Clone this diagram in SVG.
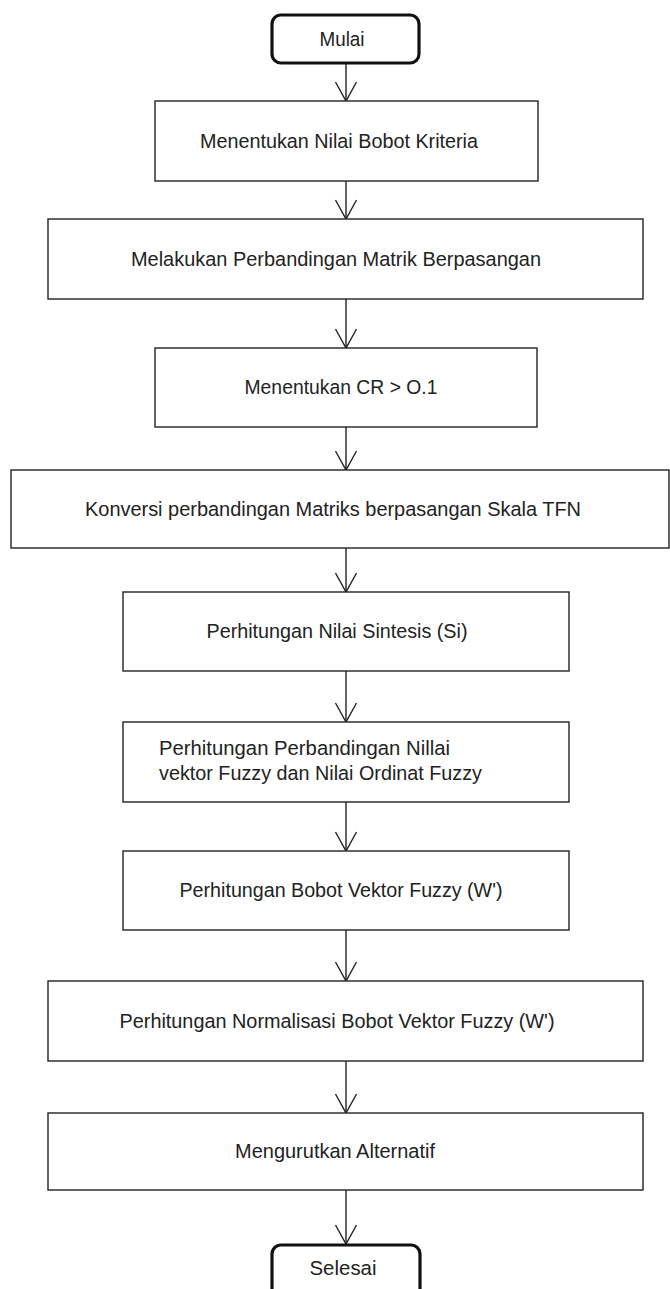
<svg xmlns="http://www.w3.org/2000/svg" width="670" height="1289" viewBox="0 0 670 1289">
<style>
.box{fill:#fff;stroke:#222;stroke-width:1.4}
.term{fill:#fff;stroke:#111;stroke-width:3.2}
.t{font-family:"Liberation Sans",Arial,sans-serif;font-size:20.5px;fill:#222;text-anchor:middle}
.tl{font-family:"Liberation Sans",Arial,sans-serif;font-size:20.5px;fill:#222}
.c{fill:none;stroke:#222;stroke-width:1.4;marker-end:url(#v)}
</style>
<defs>
<marker id="v" markerUnits="userSpaceOnUse" orient="auto" overflow="visible" markerWidth="1" markerHeight="1" refX="0" refY="0">
<path d="M-19,-10.5 L0,0 L-19,10.5" fill="none" stroke="#222" stroke-width="1.4"/>
</marker>
</defs>
<rect width="670" height="1289" fill="#fff"/>
<g id="connectors">
<line class="c" x1="346" y1="63" x2="346" y2="101"/>
<line class="c" x1="346" y1="181" x2="346" y2="219"/>
<line class="c" x1="346" y1="299" x2="346" y2="348"/>
<line class="c" x1="346" y1="427" x2="346" y2="470"/>
<line class="c" x1="346" y1="548" x2="346" y2="592"/>
<line class="c" x1="346" y1="671" x2="346" y2="722"/>
<line class="c" x1="346" y1="802" x2="346" y2="851"/>
<line class="c" x1="346" y1="930" x2="346" y2="981"/>
<line class="c" x1="346" y1="1061" x2="346" y2="1113"/>
<line class="c" x1="346" y1="1190" x2="346" y2="1244"/>
</g>
<g id="mulai">
<rect class="term" x="272" y="15" width="147" height="48" rx="9"/>
<text class="t" x="342" y="46" textLength="45" lengthAdjust="spacingAndGlyphs">Mulai</text>
</g>
<g id="n1">
<rect class="box" x="155" y="101" width="383" height="80"/>
<text class="t" x="339" y="148" textLength="278" lengthAdjust="spacingAndGlyphs">Menentukan Nilai Bobot Kriteria</text>
</g>
<g id="n2">
<rect class="box" x="48" y="219" width="595" height="80"/>
<text class="t" x="336" y="266" textLength="410" lengthAdjust="spacingAndGlyphs">Melakukan Perbandingan Matrik Berpasangan</text>
</g>
<g id="n3">
<rect class="box" x="155" y="348" width="382" height="79"/>
<text class="t" x="341" y="394" textLength="193" lengthAdjust="spacingAndGlyphs">Menentukan CR &gt; O.1</text>
</g>
<g id="n4">
<rect class="box" x="11" y="470" width="658" height="78"/>
<text class="t" x="333" y="516" textLength="496" lengthAdjust="spacingAndGlyphs">Konversi perbandingan Matriks berpasangan Skala TFN</text>
</g>
<g id="n5">
<rect class="box" x="123" y="592" width="446" height="79"/>
<text class="t" x="337" y="638" textLength="261" lengthAdjust="spacingAndGlyphs">Perhitungan Nilai Sintesis (Si)</text>
</g>
<g id="n6">
<rect class="box" x="123" y="722" width="446" height="80"/>
<text class="tl" x="159" y="755" textLength="291" lengthAdjust="spacingAndGlyphs">Perhitungan Perbandingan Nillai</text>
<text class="tl" x="159" y="780" textLength="323" lengthAdjust="spacingAndGlyphs">vektor Fuzzy dan Nilai Ordinat Fuzzy</text>
</g>
<g id="n7">
<rect class="box" x="123" y="851" width="446" height="79"/>
<text class="t" x="341" y="897" textLength="323" lengthAdjust="spacingAndGlyphs">Perhitungan Bobot Vektor Fuzzy (W')</text>
</g>
<g id="n8">
<rect class="box" x="48" y="981" width="595" height="80"/>
<text class="t" x="337" y="1028" textLength="435" lengthAdjust="spacingAndGlyphs">Perhitungan Normalisasi Bobot Vektor Fuzzy (W')</text>
</g>
<g id="n9">
<rect class="box" x="48" y="1113" width="595" height="77"/>
<text class="t" x="335" y="1158" textLength="200" lengthAdjust="spacingAndGlyphs">Mengurutkan Alternatif</text>
</g>
<g id="selesai">
<rect class="term" x="272" y="1245" width="148" height="60" rx="9"/>
<text class="t" x="343" y="1275" textLength="67" lengthAdjust="spacingAndGlyphs">Selesai</text>
</g>
</svg>
